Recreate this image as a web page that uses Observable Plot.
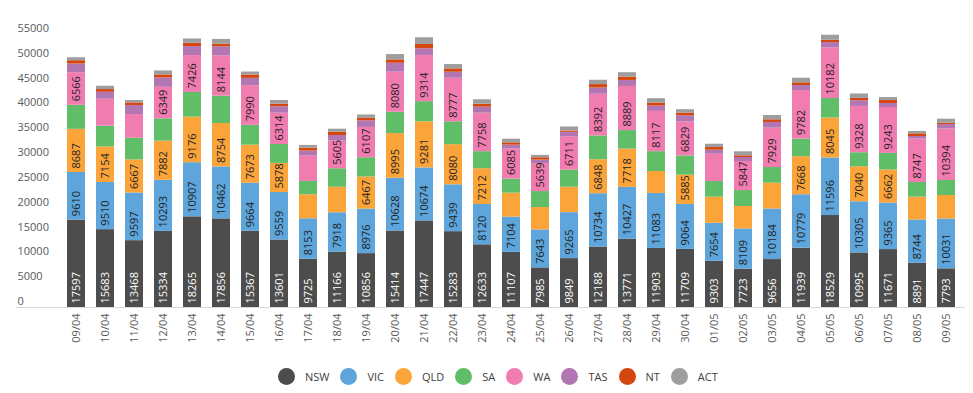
<!DOCTYPE html>
<html>
<head>
<meta charset="utf-8">
<script src="https://cdn.jsdelivr.net/npm/d3@7"></script>
<script src="https://cdn.jsdelivr.net/npm/@observablehq/plot@0.6"></script>
<style>
  html, body { margin: 0; padding: 0; background: #ffffff; }
  #wrap { position: relative; width: 973px; height: 393px; overflow: hidden; font-family: "Open Sans", sans-serif; }
  #chart { position: absolute; left: 0; top: 0; }
  #legend { position: absolute; top: 368px; left: 278px; display: flex; align-items: center; font-size: 11px; color: #404040; }
  #legend .sw { width: 17px; height: 17px; border-radius: 50%; margin-right: 10px; }
  #legend .lb { margin-right: 11px; line-height: 17px; }
</style>
</head>
<body>
<div id="wrap">
  <div id="chart"></div>
  <div id="legend"></div>
</div>
<script>
const dates = ["09/04","10/04","11/04","12/04","13/04","14/04","15/04","16/04","17/04","18/04","19/04","20/04","21/04","22/04","23/04","24/04","25/04","26/04","27/04","28/04","29/04","30/04","01/05","02/05","03/05","04/05","05/05","06/05","07/05","08/05","09/05"];
const seriesNames = ["NSW","VIC","QLD","SA","WA","TAS","NT","ACT"];
const seriesColors = ["#4d4d4d","#5da5da","#faa43a","#60bd68","#f17cb0","#b276b2","#d5470f","#9e9e9e"];
const yTicks = [0,5000,10000,15000,20000,25000,30000,35000,40000,45000,50000,55000];

const NSW = [17597,15683,13468,15334,18265,17856,15367,13601,9725,11166,10856,15414,17447,15283,12633,11107,7985,9849,12188,13771,11903,11709,9303,7723,9656,11939,18529,10995,11671,8891,7793];
const VIC = [9610,9510,9597,10293,10907,10462,9664,9559,8153,7918,8976,10628,10674,9439,8120,7104,7643,9265,10734,10427,11083,9064,7654,8109,10184,10779,11596,10305,9365,8744,10031];
const QLD = [8687,7154,6667,7882,9176,8754,7673,5878,4840,5140,6467,8995,9281,8080,7212,4820,4510,5120,6848,7718,4410,5885,5260,4510,5200,7668,8045,7040,6662,4590,4740];
const SA  = [4840,4170,4370,4510,4980,5500,4000,3800,2680,3730,3880,4290,4070,4610,3430,2850,3220,3460,4800,3730,4000,3880,3160,3220,3160,3550,3930,2840,3350,2960,3020];
const WA  = [6566,5440,4770,6349,7426,8144,7990,6314,5100,5605,6107,8080,9314,8777,7758,6085,5639,6711,8392,8889,8117,6829,5500,5847,7929,9782,10182,9328,9243,8747,10394];
const TAS = [1750,1410,1810,1890,1810,1810,1470,1290,1010,1090,1320,1800,1340,1210,1210,740,700,890,1270,1210,1070,1270,810,810,1150,1010,1090,1150,810,520,870];
const NT  = [670,540,540,600,670,540,680,520,600,670,500,680,870,680,600,470,470,270,680,670,600,540,540,340,540,540,470,470,600,540,280];
const ACT = [600,670,470,800,870,940,600,740,540,600,680,1070,1340,870,890,740,480,810,870,890,890,670,670,810,870,930,1010,890,600,470,810];

const labelledSeries = ["NSW","VIC","QLD","WA"];
const labelMin = 5600;

const valuesBySeries = {NSW, VIC, QLD, SA, WA, TAS, NT, ACT};
const data = [];
dates.forEach((date, i) => {
  seriesNames.forEach(s => {
    data.push({date, series: s, value: valuesBySeries[s][i]});
  });
});
const showLabel = d => labelledSeries.includes(d.series) && d.value >= labelMin;

const chart = Plot.plot({
  width: 973,
  height: 352,
  marginLeft: 16,
  marginRight: 8,
  marginTop: 34,
  marginBottom: 45,
  style: {fontFamily: "Open Sans, sans-serif", fontSize: "11px", background: "white"},
  x: {domain: dates, range: [66.7, 955], paddingInner: 0.37, paddingOuter: 0, label: null},
  y: {domain: [0, 55000], label: null},
  color: {domain: seriesNames, range: seriesColors},
  marks: [
    Plot.ruleY([0], {stroke: "#d9d9d9", strokeWidth: 1}),
    Plot.barY(data, {x: "date", y: "value", fill: "series"}),
    Plot.text(data, Plot.stackY1({
      x: "date", y: "value", z: "series",
      text: d => (d.series === "NSW" && showLabel(d)) ? String(d.value) : null,
      rotate: -90, textAnchor: "start", dy: -4,
      fill: "white", fontSize: 11
    })),
    Plot.text(data, Plot.stackY1({
      x: "date", y: "value", z: "series",
      text: d => (d.series !== "NSW" && showLabel(d)) ? String(d.value) : null,
      rotate: -90, textAnchor: "start", dy: -4,
      fill: "#1f1f1f", fontSize: 11
    })),
    Plot.axisY({ticks: yTicks, tickSize: 0, tickPadding: 0, textAnchor: "start", dx: 1, dy: -6, tickFormat: d => String(d), fill: "#595959", fontSize: 11, label: null}),
    Plot.axisX({tickSize: 0, tickPadding: 6, tickRotate: -90, fill: "#595959", fontSize: 11, label: null})
  ]
});
document.getElementById("chart").appendChild(chart);

const legend = document.getElementById("legend");
seriesNames.forEach((s, i) => {
  const sw = document.createElement("span");
  sw.className = "sw";
  sw.style.background = seriesColors[i];
  const lb = document.createElement("span");
  lb.className = "lb";
  lb.textContent = s;
  legend.appendChild(sw);
  legend.appendChild(lb);
});
</script>
</body>
</html>
